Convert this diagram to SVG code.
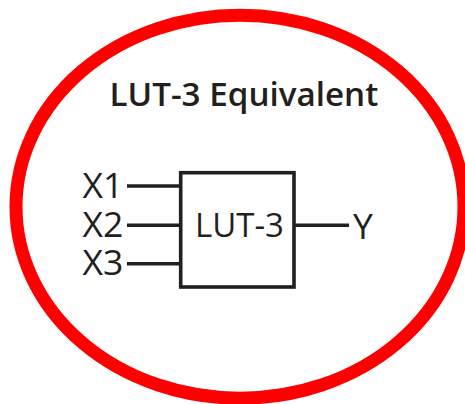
<svg xmlns="http://www.w3.org/2000/svg" width="465" height="404" viewBox="0 0 465 404">
<style>
text{font-family:"Open Sans","Noto Sans",sans-serif;fill:#231f20}
.t{font-size:35.5px;font-weight:400}
.b{font-size:33px;font-weight:400}
.h{font-size:33.2px;font-weight:600}
.w{stroke:#231f20;stroke-width:3.6;fill:none}
</style>
<rect width="465" height="404" fill="#fff"/>
<g id="outline"><ellipse cx="240" cy="206.7" rx="224" ry="191.5" fill="none" stroke="#f00" stroke-width="13"/></g>
<g id="title"><text class="h" x="109.5" y="105.5">LUT-3 Equivalent</text></g>
<g id="connectors">
<line class="w" x1="127" y1="186" x2="181" y2="186"/>
<line class="w" x1="127" y1="225.3" x2="181" y2="225.3"/>
<line class="w" x1="127" y1="263.7" x2="181" y2="263.7"/>
<line class="w" x1="294" y1="225.3" x2="349" y2="225.3"/>
</g>
<g id="lut3"><rect class="w" x="180.7" y="172.7" width="113.3" height="114.3"/><text class="b" x="195" y="236.5">LUT-3</text></g>
<g id="x1"><text class="t" x="82.5" y="197.5">X1</text></g>
<g id="x2"><text class="t" x="82.5" y="236.5">X2</text></g>
<g id="x3"><text class="t" x="82.5" y="275">X3</text></g>
<g id="y"><text class="t" x="353" y="238.5">Y</text></g>
</svg>
